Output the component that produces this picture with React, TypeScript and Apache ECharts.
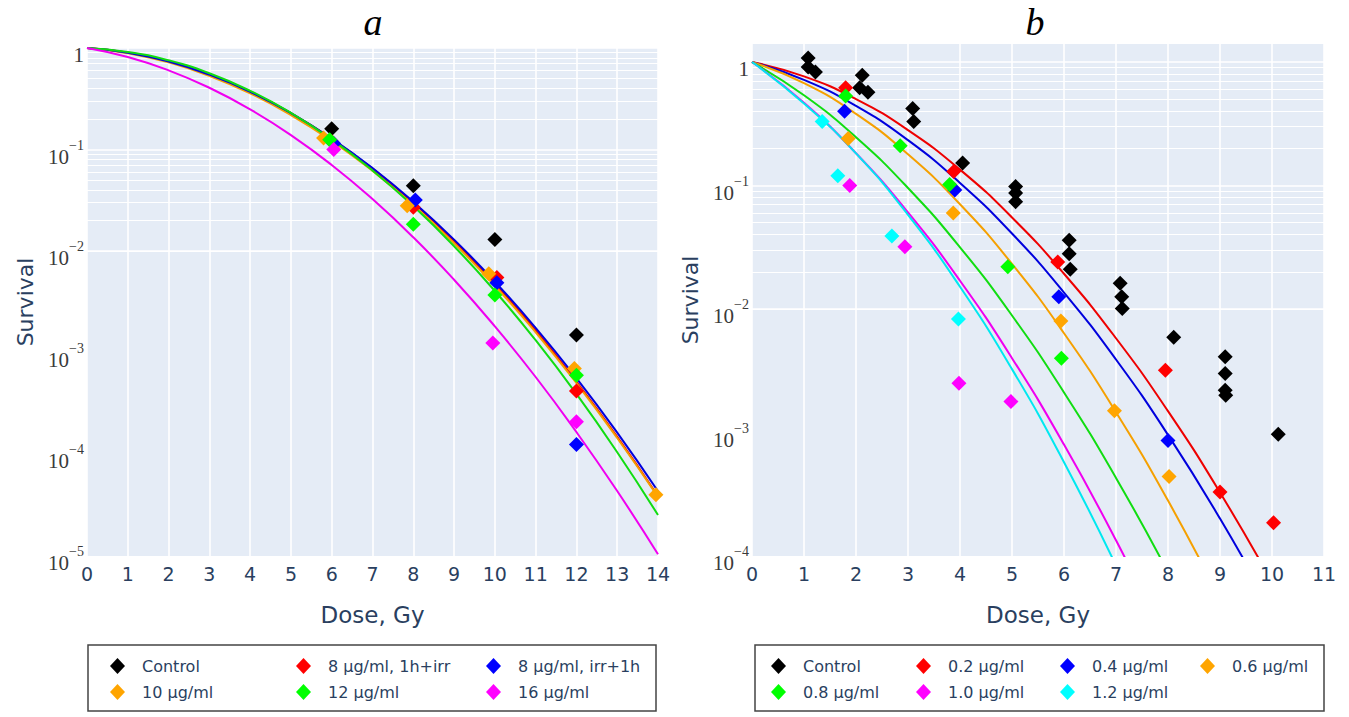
import React, { useEffect, useRef } from "react";
import * as echarts from "echarts";

// ---------- Panel a data ----------
const dosesA = [0, 1, 2, 3, 4, 5, 6, 7, 8, 9, 10, 11, 12, 13, 14];
const fitARed = [1, 0.902, 0.739, 0.551, 0.373, 0.229, 0.128, 0.065, 0.03, 0.0126, 0.00479, 0.00166, 0.00052, 0.000149, 3.87e-5];
const fitAOrange = [1, 0.89, 0.722, 0.532, 0.358, 0.219, 0.122, 0.0617, 0.0285, 0.01196, 0.00457, 0.00159, 0.000504, 0.000145, 3.82e-5];
const fitABlue = [1, 0.899, 0.735, 0.547, 0.371, 0.229, 0.1287, 0.0658, 0.0306, 0.013, 0.00501, 0.00176, 0.000563, 0.000164, 4.34e-5];
const fitAGreen = [1, 0.915, 0.756, 0.564, 0.379, 0.23, 0.126, 0.0623, 0.0278, 0.0112, 0.00406, 0.00133, 0.000394, 0.000105, 2.53e-5];
const fitAMagenta = [1, 0.814, 0.603, 0.406, 0.249, 0.139, 0.0706, 0.0326, 0.0137, 0.00524, 0.00182, 0.000578, 0.000166, 4.36e-5, 1.04e-5];

const ctrlA = [[6, 0.16], [8, 0.044], [10, 0.013], [12, 0.0015]];
const redA = [[6, 0.12], [8, 0.027], [10.05, 0.0055], [12, 0.00042]];
const blueA = [[6.05, 0.115], [8.05, 0.032], [10.05, 0.0049], [12, 0.000125]];
const orangeA = [[5.8, 0.13], [7.85, 0.028], [9.85, 0.006], [11.95, 0.0007], [13.95, 4e-5]];
const greenA = [[5.95, 0.125], [8, 0.0184], [10, 0.0037], [12, 0.0006]];
const magentaA = [[6.05, 0.1], [9.95, 0.00125], [12, 0.00021]];

const namesA = ["Control", "8 μg/ml, 1h+irr", "8 μg/ml, irr+1h", "10 μg/ml", "12 μg/ml", "16 μg/ml"];

// ---------- Panel b data ----------
const dosesB = [0, 1, 2, 3, 4, 5, 6, 7, 8, 9, 10];
const fitBRed = [1, 0.765, 0.501, 0.281, 0.1345, 0.0551, 0.0193, 0.0058, 0.00149, 0.000327, 6.14e-5];
const fitBBlue = [1, 0.717, 0.441, 0.233, 0.105, 0.0409, 0.0136, 0.0039, 0.000957, 0.000201, 3.64e-5];
const fitBOrange = [1, 0.674, 0.38, 0.179, 0.0705, 0.0232, 0.00637, 0.00146, 0.000281, 4.5e-5];
const fitBGreen = [1, 0.538, 0.246, 0.0955, 0.0316, 0.00886, 0.00211, 0.000429, 7.39e-5];
const fitBMagenta = [1, 0.468, 0.1827, 0.0606, 0.01695, 0.004, 0.000798, 0.000134, 1.91e-5];
const fitBCyan = [1, 0.462, 0.182, 0.0579, 0.01514, 0.00326, 0.000575, 8.37e-5];

const ctrlB = [
  [1.08, 1.08], [1.08, 0.91], [1.22, 0.83],
  [2.12, 0.78], [2.07, 0.62], [2.23, 0.57],
  [3.09, 0.42], [3.11, 0.33],
  [4.05, 0.152],
  [5.07, 0.098], [5.07, 0.087], [5.07, 0.074],
  [6.1, 0.036], [6.1, 0.028], [6.12, 0.021],
  [7.08, 0.0162], [7.11, 0.0126], [7.12, 0.0101],
  [8.11, 0.0059],
  [9.1, 0.0041], [9.1, 0.003], [9.1, 0.0022], [9.11, 0.002],
  [10.12, 0.00097],
];
const redB = [[1.8, 0.62], [3.88, 0.13], [5.88, 0.024], [7.95, 0.0032], [9.0, 0.00033], [10.03, 0.000186]];
const blueB = [[1.78, 0.4], [3.9, 0.092], [5.9, 0.0126], [8.0, 0.00086]];
const orangeB = [[1.85, 0.24], [3.87, 0.06], [5.94, 0.008], [6.97, 0.0015], [8.02, 0.00044]];
const greenB = [[1.8, 0.53], [2.85, 0.21], [3.8, 0.102], [4.92, 0.022], [5.95, 0.004]];
const magentaB = [[1.88, 0.1], [2.94, 0.032], [3.98, 0.0025], [4.98, 0.00178]];
const cyanB = [[1.35, 0.33], [1.65, 0.12], [2.69, 0.039], [3.97, 0.0083]];

const namesB = ["Control", "0.2 μg/ml", "0.4 μg/ml", "0.6 μg/ml", "0.8 μg/ml", "1.0 μg/ml", "1.2 μg/ml"];

// ---------- axis ticks ----------
const xTicksA = { min: 0, max: 14 };
const xTicksB = { min: 0, max: 11 };
const decadesA = [-5, -4, -3, -2, -1];
const decadesB = [-4, -3, -2, -1];
const logMultipliers = [1, 2, 3, 4, 5, 6, 7, 8, 9];

const C = {
  black: "#000000",
  red: "#ff0000",
  blue: "#0000ff",
  orange: "#ffa500",
  green: "#00ff00",
  magenta: "#ff00ff",
  cyan: "#00ffff",
};
const LINE = {
  red: "#ee0000",
  blue: "#0000dd",
  orange: "#f5a000",
  green: "#11dd11",
  magenta: "#f000f0",
  cyan: "#00e8f0",
};

const TXT = "#2a3f5f";
const SANS = "DejaVu Sans";
const SERIF = "Liberation Serif";

function gridValues(decades: number[], top: number) {
  const out: { yAxis: number; lineStyle: any }[] = [];
  decades.forEach((d) => {
    logMultipliers.forEach((m) => {
      out.push({ yAxis: m * Math.pow(10, d), lineStyle: { width: m === 1 ? 1.5 : 1.1 } });
    });
  });
  out.push({ yAxis: top, lineStyle: { width: 1.5 } });
  return out;
}

function logFmt(v: number) {
  const e = Math.log10(v);
  const r = Math.round(e);
  if (Math.abs(e - r) > 1e-6) return "";
  if (r === 0) return "{b|1}";
  return "{b|10}{s|−" + -r + "}";
}

function scatter(name: string, data: number[][], color: string, idx: number) {
  return {
    type: "scatter",
    name,
    data,
    xAxisIndex: idx,
    yAxisIndex: idx,
    symbol: "diamond",
    symbolSize: 15,
    itemStyle: { color, opacity: 1 },
    z: 4,
    silent: true,
  };
}

function line(id: string, xs: number[], ys: number[], color: string, idx: number) {
  return {
    type: "line",
    name: id,
    data: ys.map((y, i) => [xs[i], y]),
    xAxisIndex: idx,
    yAxisIndex: idx,
    smooth: true,
    showSymbol: false,
    symbol: "none",
    lineStyle: { color, width: 2 },
    itemStyle: { color },
    z: 3,
    silent: true,
  };
}

function gridSeries(idx: number, values: any[]) {
  return {
    type: "line",
    name: "grid" + idx,
    data: [],
    xAxisIndex: idx,
    yAxisIndex: idx,
    z: 1,
    silent: true,
    markLine: {
      z: 1,
      silent: true,
      symbol: ["none", "none"],
      label: { show: false },
      emphasis: { disabled: true },
      lineStyle: { color: "#ffffff", type: "solid", width: 1 },
      data: values,
    },
  };
}

function xAxis(idx: number, t: { min: number; max: number }) {
  return {
    type: "value",
    gridIndex: idx,
    min: t.min,
    max: t.max,
    interval: 1,
    axisLine: { show: false },
    axisTick: { show: false },
    splitLine: { show: true, lineStyle: { color: "#ffffff", width: 1.6 } },
    axisLabel: { color: TXT, fontSize: 19, fontFamily: SANS, margin: 8 },
    name: "Dose, Gy",
    nameLocation: "middle",
    nameGap: 47,
    nameTextStyle: { color: TXT, fontSize: 23, fontFamily: SANS },
  };
}

function yAxis(idx: number, min: number, max: number, gap: number) {
  return {
    type: "log",
    logBase: 10,
    gridIndex: idx,
    min,
    max,
    axisLine: { show: false },
    axisTick: { show: false },
    splitLine: { show: false },
    axisLabel: {
      formatter: logFmt,
      margin: 3,
      rich: {
        b: { fontFamily: SERIF, fontSize: 21, color: "#3a3a3a", padding: [14, 0, 0, 0] },
        s: { fontFamily: SERIF, fontSize: 14, color: "#3a3a3a", verticalAlign: "top", padding: [6, 0, 0, 0] },
      },
    },
    name: "Survival",
    nameLocation: "middle",
    nameGap: gap,
    nameTextStyle: { color: TXT, fontSize: 22, fontFamily: SANS },
  };
}

function legendItem(name: string, left: number, top: number) {
  return {
    data: [name],
    left,
    top,
    orient: "horizontal",
    padding: 0,
    itemWidth: 15,
    itemHeight: 16,
    icon: "diamond",
    selectedMode: false,
    textStyle: { fontFamily: SANS, fontSize: 16, color: TXT, padding: [0, 0, 0, 12] },
  };
}

export default function App() {
  const ref = useRef<HTMLDivElement>(null);
  useEffect(() => {
    document.body.style.margin = "0";
    if (!ref.current) return;
    const chart = echarts.init(ref.current, undefined, { renderer: "svg" });
    const row1 = 658;
    const row2 = 684;
    const option: any = {
      animation: false,
      backgroundColor: "#ffffff",
      tooltip: { show: false },
      grid: [
        { left: 87, top: 48, width: 571, height: 508, show: true, backgroundColor: "#e5ecf6", borderWidth: 0 },
        { left: 752, top: 44, width: 572, height: 512, show: true, backgroundColor: "#e5ecf6", borderWidth: 0 },
      ],
      xAxis: [xAxis(0, xTicksA), xAxis(1, xTicksB)],
      yAxis: [yAxis(0, 1e-5, 1, 51), yAxis(1, 1e-4, 1.4, 51)],
      legend: [
        legendItem(namesA[0], 110, row1),
        legendItem(namesA[1], 296, row1),
        legendItem(namesA[2], 486, row1),
        legendItem(namesA[3], 110, row2),
        legendItem(namesA[4], 296, row2),
        legendItem(namesA[5], 486, row2),
        legendItem(namesB[0], 771, row1),
        legendItem(namesB[1], 916, row1),
        legendItem(namesB[2], 1060, row1),
        legendItem(namesB[3], 1200, row1),
        legendItem(namesB[4], 771, row2),
        legendItem(namesB[5], 916, row2),
        legendItem(namesB[6], 1060, row2),
      ],
      graphic: [
        {
          type: "text",
          x: 373,
          y: 22,
          style: { text: "a", font: "italic 38px 'Liberation Serif'", fill: "#000", textAlign: "center", textVerticalAlign: "middle" },
        },
        {
          type: "text",
          x: 1035,
          y: 22,
          style: { text: "b", font: "italic 38px 'Liberation Serif'", fill: "#000", textAlign: "center", textVerticalAlign: "middle" },
        },
        {
          type: "rect",
          shape: { x: 88, y: 645, width: 568, height: 66 },
          style: { fill: "none", stroke: "#444", lineWidth: 1.5 },
        },
        {
          type: "rect",
          shape: { x: 755, y: 645, width: 569, height: 66 },
          style: { fill: "none", stroke: "#444", lineWidth: 1.5 },
        },
      ],
      series: [
        gridSeries(0, gridValues(decadesA, 1)),
        gridSeries(1, gridValues(decadesB, 1)),
        line("fitA-red", dosesA, fitARed, LINE.red, 0),
        line("fitA-orange", dosesA, fitAOrange, LINE.orange, 0),
        line("fitA-blue", dosesA, fitABlue, LINE.blue, 0),
        line("fitA-green", dosesA, fitAGreen, LINE.green, 0),
        line("fitA-magenta", dosesA, fitAMagenta, LINE.magenta, 0),
        scatter(namesA[0], ctrlA, C.black, 0),
        scatter(namesA[1], redA, C.red, 0),
        scatter(namesA[2], blueA, C.blue, 0),
        scatter(namesA[3], orangeA, C.orange, 0),
        scatter(namesA[4], greenA, C.green, 0),
        scatter(namesA[5], magentaA, C.magenta, 0),
        line("fitB-red", dosesB, fitBRed, LINE.red, 1),
        line("fitB-blue", dosesB, fitBBlue, LINE.blue, 1),
        line("fitB-orange", dosesB, fitBOrange, LINE.orange, 1),
        line("fitB-green", dosesB, fitBGreen, LINE.green, 1),
        line("fitB-magenta", dosesB, fitBMagenta, LINE.magenta, 1),
        line("fitB-cyan", dosesB, fitBCyan, LINE.cyan, 1),
        scatter(namesB[0], ctrlB, C.black, 1),
        scatter(namesB[1], redB, C.red, 1),
        scatter(namesB[2], blueB, C.blue, 1),
        scatter(namesB[3], orangeB, C.orange, 1),
        scatter(namesB[4], greenB, C.green, 1),
        scatter(namesB[5], magentaB, C.magenta, 1),
        scatter(namesB[6], cyanB, C.cyan, 1),
      ],
    };
    chart.setOption(option);
    return () => chart.dispose();
  }, []);
  return <div ref={ref} style={{ width: 1349, height: 717, background: "#fff" }} />;
}
